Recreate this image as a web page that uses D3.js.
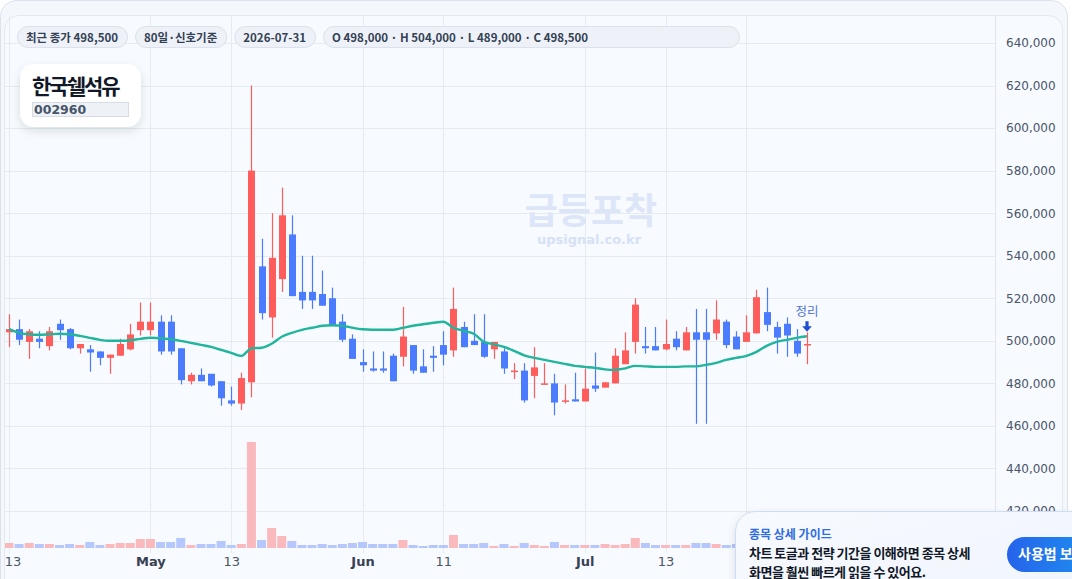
<!DOCTYPE html>
<html>
<head>
<meta charset="utf-8">
<script src="https://cdn.jsdelivr.net/npm/d3@7"></script>
<style>
html, body { margin: 0; padding: 0; background: #ffffff; }
svg { display: block; }
text { font-family: "DejaVu Sans", sans-serif; }
.kr { font-family: "Noto Sans CJK KR", "Noto Sans", sans-serif; }
</style>
</head>
<body>
<div id="chart"></div>
<script>
var width = 1072,
    height = 579;

// daily candles, 2026-04-13 .. 2026-07-31 (80 trading days)
var opens  = [504000,505500,499500,501000,497500,508000,505500,496500,496000,495000,
              492000,493000,496000,505000,505000,509000,509000,496500,481000,484000,
              484500,481000,472000,470500,480500,535000,511000,529000,550000,523000,
              523000,522000,520000,509000,501000,490000,487000,487000,493000,492500,
              498000,488000,493000,498000,495500,506500,500000,499500,496000,495000,
              485500,486000,483500,479500,480000,471500,472500,471500,479000,478000,
              480000,489000,499500,497500,497500,496000,501000,495500,504000,504000,
              503500,509000,502000,499500,503500,513500,506500,508000,500000,498000];
var highs  = [512500,510000,505500,504500,506500,510000,506000,498500,498000,495000,
              493500,501000,508000,518000,518000,512000,512000,496500,485000,487000,
              484500,481000,478500,485000,620000,548000,560000,572000,559000,540000,
              540000,533000,525000,512500,503000,496000,495000,495000,494000,516000,
              498000,496000,497500,504500,525000,509000,512500,512500,499500,496500,
              489500,489500,497000,489500,484500,479500,485000,487000,494500,480500,
              496500,504000,520000,506500,506500,510000,504500,506500,515000,515000,
              519000,510000,504500,512000,524000,525000,509000,511000,505500,504000];
var lows   = [497000,498000,491500,496500,495500,500500,496000,494000,485500,488500,
              484500,493000,495500,502500,502500,493500,493500,479500,479500,481000,
              478500,469500,469500,467500,473500,510000,501500,523000,521000,515000,
              515000,516500,507000,499500,491500,485500,485500,485000,481000,488000,
              484500,485000,485500,488500,492500,497000,498000,492000,491500,484500,
              482000,471000,473000,479500,465000,470500,471500,471500,476000,478000,
              480000,489000,494000,494000,495500,495500,495500,495500,461000,461000,
              500500,496500,496000,499500,503500,504500,494000,492500,492500,489000];
var closes = [505500,500500,504500,499500,504500,505000,496500,498500,494500,492000,
              493500,498500,503000,509000,509000,495000,495000,481500,484000,481000,
              479000,473000,470500,482500,580000,513000,539000,559000,521000,519000,
              519000,516500,507000,500500,491500,488500,486000,486000,481000,502000,
              486000,485000,492000,493500,515000,497000,498000,492500,499500,487000,
              486000,472000,487500,480000,471000,472000,471500,477500,477500,480500,
              493000,495500,517000,496500,495500,498500,497000,504000,500500,500500,
              510000,498000,496000,504000,520500,507500,501500,502500,494000,498500];
var volumes = [15000,12000,15000,12000,12000,9000,12000,9000,18000,9000,
               12000,15000,15000,27000,27000,18000,18000,30000,9000,12000,
               12000,21000,9000,12000,318000,24000,60000,36000,21000,9000,
               9000,12000,9000,12000,15000,18000,12000,12000,12000,24000,
               9000,6000,9000,9000,39000,12000,12000,15000,6000,12000,
               6000,15000,9000,6000,18000,9000,9000,9000,9000,12000,
               9000,12000,30000,15000,9000,9000,9000,9000,15000,15000,
               12000,9000,12000,9000,12000,12000,9000,9000,9000,9000];
var ma20 = [505650,503760,503060,502820,503060,503290,503060,502350,501410,500470,
            500000,500000,500240,500940,501410,501180,500710,500000,499060,498120,
            497180,495760,494350,492940,496470,496710,498590,501880,503760,505180,
            506120,507060,507300,507060,506120,505410,505180,505180,505180,506120,
            507060,507760,508470,508940,506120,504710,503290,499530,498350,497180,
            495290,493180,492000,491060,490120,489180,488240,487760,487290,486590,
            486350,487060,488240,488000,487760,487760,487760,488000,488000,488710,
            489650,491060,492000,492940,494820,497650,499530,500470,501410,502120];

var tickIdx    = [0, 14, 22, 35, 43, 57, 65, 73];
var tickLabels = ["13", "May", "13", "Jun", "11", "Jul", "13", "23"];
var priceTicks = [420000,440000,460000,480000,500000,520000,540000,560000,580000,600000,620000,640000];

var pillTexts = ["최근 종가 498,500", "80일·신호기준", "2026-07-31",
                 "O 498,000 · H 504,000 · L 489,000 · C 498,500"];

var red = "#ff5c5c", blue = "#4b7bff";

var candles = opens.map(function(o, i) {
  return {i: i, open: o, high: highs[i], low: lows[i], close: closes[i], vol: volumes[i], ma: ma20[i]};
});

var x = d3.scaleLinear().domain([0, 79]).range([9, 807]);
var y = d3.scaleLinear().domain([420000, 640000]).range([511, 43]);
var yVol = d3.scaleLinear().domain([0, d3.max(volumes)]).range([548, 442]);

var svg = d3.select("#chart").append("svg")
    .attr("width", width)
    .attr("height", height);

var defs = svg.append("defs");
var sh = defs.append("filter").attr("id", "shadow").attr("x", "-30%").attr("y", "-30%").attr("width", "160%").attr("height", "170%");
sh.append("feDropShadow").attr("dx", 0).attr("dy", 4).attr("stdDeviation", 5)
  .attr("flood-color", "#1e293b").attr("flood-opacity", 0.12);
defs.append("clipPath").attr("id", "plotclip").append("rect")
  .attr("x", 5).attr("y", 16).attr("width", 990).attr("height", 570);

var cardGrad = defs.append("linearGradient").attr("id", "cardgrad")
  .attr("x1", "0%").attr("y1", "0%").attr("x2", "100%").attr("y2", "100%");
cardGrad.append("stop").attr("offset", "0%").attr("stop-color", "#f7faff");
cardGrad.append("stop").attr("offset", "100%").attr("stop-color", "#eef3fb");
var btnGrad = defs.append("linearGradient").attr("id", "btngrad");
btnGrad.append("stop").attr("offset", "0%").attr("stop-color", "#2563eb");
btnGrad.append("stop").attr("offset", "100%").attr("stop-color", "#1e9bf0");

// card + panel
svg.append("rect").attr("x", 0.5).attr("y", 0.5).attr("width", 1067).attr("height", 620)
  .attr("rx", 16).attr("fill", "#f4f7fb").attr("stroke", "#dbe2ec");
svg.append("rect").attr("x", 4.5).attr("y", 15.5).attr("width", 1058).attr("height", 620)
  .attr("rx", 14).attr("fill", "#f7faff").attr("stroke", "#e4e9f1");

var plot = svg.append("g").attr("clip-path", "url(#plotclip)");

/* -----------------GRID----------------- */
plot.selectAll(".hgrid").data(priceTicks).enter().append("line")
  .attr("x1", 5).attr("x2", 995)
  .attr("y1", function(d) { return Math.round(y(d)) + 0.5; })
  .attr("y2", function(d) { return Math.round(y(d)) + 0.5; })
  .attr("stroke", "#e6ebf2").attr("stroke-width", 1);

plot.selectAll(".vgrid").data(tickIdx).enter().append("line")
  .attr("x1", function(d) { return Math.round(x(d)) + 0.5; })
  .attr("x2", function(d) { return Math.round(x(d)) + 0.5; })
  .attr("y1", 16).attr("y2", 553)
  .attr("stroke", "#e6ebf2").attr("stroke-width", 1);

svg.append("line").attr("x1", 995.5).attr("x2", 995.5).attr("y1", 16).attr("y2", 579)
  .attr("stroke", "#e1e6ee");

// watermark
svg.append("text").attr("class", "kr").attr("x", 591).attr("y", 224)
  .attr("text-anchor", "middle").attr("font-size", 36).attr("font-weight", 700)
  .attr("fill", "#dce6f8").text("급등포착");
svg.append("text").attr("x", 589).attr("y", 244)
  .attr("text-anchor", "middle").attr("font-size", 13).attr("font-weight", 700)
  .attr("fill", "#d6e1f6").text("upsignal.co.kr");

/* -----------------VOLUME----------------- */
plot.selectAll(".vol").data(candles).enter().append("rect")
  .attr("x", function(d) { return x(d.i) - 4.5; })
  .attr("width", 9)
  .attr("y", function(d) { return yVol(d.vol); })
  .attr("height", function(d) { return 548 - yVol(d.vol); })
  .attr("fill", function(d) { return d.close >= d.open ? "#fab9bc" : "#b6c8fb"; });

/* -----------------CANDLES----------------- */
var cg = plot.selectAll(".candle").data(candles).enter().append("g");
cg.append("line")
  .attr("x1", function(d) { return Math.round(x(d.i)) + 0.5; })
  .attr("x2", function(d) { return Math.round(x(d.i)) + 0.5; })
  .attr("y1", function(d) { return y(d.high); })
  .attr("y2", function(d) { return y(d.low); })
  .attr("stroke", function(d) { return d.close >= d.open ? red : blue; })
  .attr("stroke-width", 1.2);
cg.append("rect")
  .attr("x", function(d) { return Math.round(x(d.i)) - 3; })
  .attr("width", 7)
  .attr("y", function(d) { return y(Math.max(d.open, d.close)); })
  .attr("height", function(d) { return Math.max(1.5, Math.abs(y(d.open) - y(d.close))); })
  .attr("fill", function(d) { return d.close >= d.open ? red : blue; });

/* -----------------MA LINE----------------- */
var lineFunction = d3.line()
  .x(function(d) { return x(d.i); })
  .y(function(d) { return y(d.ma); })
  .curve(d3.curveMonotoneX);
plot.append("path").datum(candles)
  .attr("d", lineFunction)
  .attr("fill", "none").attr("stroke", "#20b59c").attr("stroke-width", 2.4);

// signal marker on the last candle
var last = candles[candles.length - 1];
var sx = x(last.i), sy = y(last.high);
svg.append("text").attr("class", "kr").attr("x", sx).attr("y", sy - 16)
  .attr("text-anchor", "middle").attr("font-size", 12.5).attr("fill", "#4e74d6")
  .attr("stroke", "#f7faff").attr("stroke-width", 3).attr("paint-order", "stroke")
  .text("정리");
svg.append("path")
  .attr("d", "M" + (sx - 1.6) + "," + (sy - 11) + "h3.2v5h3.2l-4.8,5.4l-4.8,-5.4h3.2z")
  .attr("fill", "#1f4fd1");

/* -----------------AXES----------------- */
var yAxis = svg.append("g").attr("transform", "translate(1002,0)")
  .call(d3.axisRight(y).tickValues(priceTicks).tickFormat(d3.format(",")).tickSize(0));
yAxis.select(".domain").remove();
yAxis.selectAll("text").attr("font-family", "DejaVu Sans").attr("font-size", 12)
  .attr("fill", "#4a5568").attr("x", 4);

var xAxis = svg.append("g").attr("transform", "translate(0,553)")
  .call(d3.axisBottom(x).tickValues(tickIdx)
    .tickFormat(function(d, i) { return tickLabels[i]; }).tickSize(0));
xAxis.select(".domain").remove();
xAxis.selectAll("text")
  .attr("font-family", "DejaVu Sans").attr("font-size", 13).attr("dy", "0.71em").attr("y", 4)
  .attr("font-weight", function(d, i) { return isNaN(+tickLabels[i]) ? 700 : 400; })
  .attr("fill", function(d, i) { return isNaN(+tickLabels[i]) ? "#374151" : "#4b5563"; })
  .attr("dx", function(d, i) { return i === 0 ? 3.5 : 0; });

/* -----------------HEADER PILLS----------------- */
var px = 17;
pillTexts.forEach(function(t, i) {
  var g = svg.append("g");
  var r = g.append("rect").attr("y", 26.5).attr("height", 21).attr("rx", 10.5)
    .attr("fill", "#eef2f8").attr("stroke", "#dbe2eb");
  var tx = g.append("text").attr("class", "kr").attr("x", px + 9).attr("y", 41.5)
    .attr("font-size", 11.5).attr("font-weight", 600).attr("fill", "#334155").text(t);
  var w = tx.node().getComputedTextLength() + 18;
  if (i === pillTexts.length - 1) w = 739 - px;
  r.attr("x", px + 0.5).attr("width", w);
  px += w + 8;
});

/* -----------------TITLE CARD----------------- */
svg.append("rect").attr("x", 20).attr("y", 64).attr("width", 121).attr("height", 63)
  .attr("rx", 14).attr("fill", "#ffffff").attr("filter", "url(#shadow)");
svg.append("text").attr("class", "kr").attr("x", 32).attr("y", 94)
  .attr("font-size", 21).attr("font-weight", 700).attr("letter-spacing", -2)
  .attr("fill", "#111827").text("한국쉘석유");
svg.append("rect").attr("x", 32.5).attr("y", 102.5).attr("width", 96).attr("height", 14)
  .attr("fill", "#eef1f6").attr("stroke", "#d6dce6");
svg.append("text").attr("x", 34).attr("y", 114)
  .attr("font-size", 12.5).attr("font-weight", 700).attr("fill", "#475569").text("002960");

/* -----------------GUIDE CARD----------------- */
svg.append("rect").attr("x", 735.5).attr("y", 511.5).attr("width", 420).attr("height", 120)
  .attr("rx", 20).attr("fill", "url(#cardgrad)").attr("stroke", "#cfdcf3")
  .attr("filter", "url(#shadow)");
svg.append("text").attr("class", "kr").attr("x", 749).attr("y", 539)
  .attr("font-size", 12).attr("font-weight", 700).attr("fill", "#2f6de0").text("종목 상세 가이드");
svg.append("text").attr("class", "kr").attr("x", 749).attr("y", 558)
  .attr("font-size", 13).attr("font-weight", 700).attr("letter-spacing", -0.5)
  .attr("fill", "#111827").text("차트 토글과 전략 기간을 이해하면 종목 상세");
svg.append("text").attr("class", "kr").attr("x", 749).attr("y", 577)
  .attr("font-size", 13).attr("font-weight", 700).attr("letter-spacing", -0.5)
  .attr("fill", "#111827").text("화면을 훨씬 빠르게 읽을 수 있어요.");
svg.append("rect").attr("x", 1007).attr("y", 537).attr("width", 110).attr("height", 35)
  .attr("rx", 17.5).attr("fill", "url(#btngrad)");
svg.append("text").attr("class", "kr").attr("x", 1018).attr("y", 559)
  .attr("font-size", 14).attr("font-weight", 700).attr("fill", "#ffffff").text("사용법 보기");
</script>
</body>
</html>
